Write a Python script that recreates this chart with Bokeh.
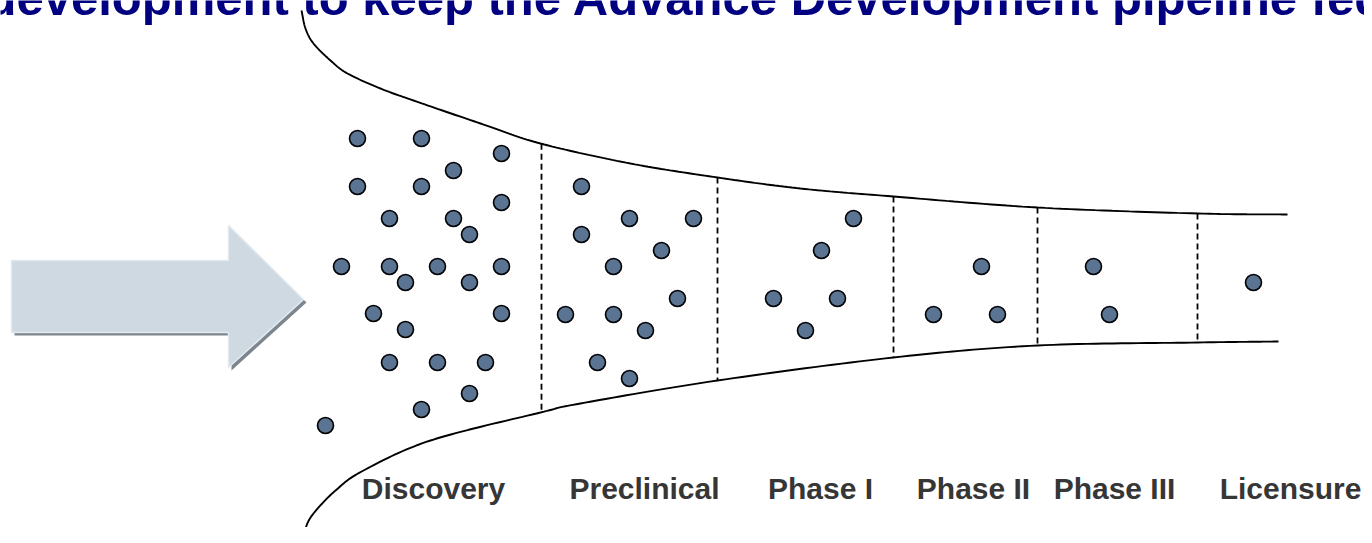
import numpy as np
from bokeh.plotting import figure
from bokeh.models import Range1d
from bokeh.core.properties import value
from bokeh.embed import file_html
from bokeh.resources import INLINE

# ---- data (positions, in picture pixels) ----
stages = ["Discovery", "Preclinical", "Phase I", "Phase II", "Phase III", "Licensure"]
stage_label_x = [433, 644, 820, 973, 1114, 1290]
divider_x = [541, 717, 893, 1037, 1197]

discovery_x = [357, 421, 501, 453, 357, 421, 501, 389, 453, 469, 341, 389, 437, 501,
               405, 469, 373, 501, 405, 389, 437, 485, 469, 421, 325]
discovery_y = [138, 138, 153, 170, 186, 186, 202, 218, 218, 234, 266, 266, 266, 266,
               282, 282, 313, 313, 329, 362, 362, 362, 393, 409, 425]
preclinical_x = [581, 629, 693, 581, 661, 613, 677, 565, 613, 645, 597, 629]
preclinical_y = [186, 218, 218, 234, 250, 266, 298, 314, 314, 330, 362, 378]
phase1_x = [853, 821, 773, 837, 805]
phase1_y = [218, 250, 298, 298, 330]
phase2_x = [981, 933, 997]
phase2_y = [266, 314, 314]
phase3_x = [1093, 1109]
phase3_y = [266, 314]
licensure_x = [1253]
licensure_y = [282]

title_text = "development to keep the Advance Development pipeline fed"

# funnel outline guide points
top_pts = [(301, 10), (305, 28), (313, 43), (330, 60), (347, 73), (380, 88), (413, 100),
           (480, 123), (540, 143), (630, 163), (717, 177), (800, 188), (893, 196),
           (1037, 207), (1197, 213), (1287, 214)]
bot_pts = [(302, 545), (305, 528), (313, 513), (335, 490), (363, 470), (430, 440),
           (540, 412), (580, 403), (717, 380), (893, 357), (1037, 345), (1197, 342),
           (1278, 341)]


def catmull(pts, n=20):
    P = np.array(pts, dtype=float)
    P = np.vstack([P[0] - (P[1] - P[0]), P, P[-1] + (P[-1] - P[-2])])
    out = []
    for i in range(1, len(P) - 2):
        p0, p1, p2, p3 = P[i - 1], P[i], P[i + 1], P[i + 2]
        for t in np.linspace(0, 1, n, endpoint=False):
            t2, t3 = t * t, t * t * t
            pt = 0.5 * ((2 * p1) + (-p0 + p2) * t + (2 * p0 - 5 * p1 + 4 * p2 - p3) * t2
                        + (-p0 + 3 * p1 - 3 * p2 + p3) * t3)
            out.append(pt)
    out.append(P[-2])
    out = np.array(out)
    return out[:, 0], out[:, 1]


def curve_y_at(xs, ys, x):
    order = np.argsort(xs)
    return float(np.interp(x, np.array(xs)[order], np.array(ys)[order]))


p = figure(width=1364, height=527, output_backend="svg", toolbar_location=None,
           x_range=Range1d(0, 1364), y_range=Range1d(527, 0), min_border=0)
p.axis.visible = False
p.grid.visible = False
p.outline_line_color = None
p.background_fill_color = "white"

# arrow (shadow then body)
ax = [11, 228, 228, 303, 228, 228, 11]
ay = [260, 260, 225, 299, 367, 332, 332]
p.patch([v + 3 for v in ax], [v + 3 for v in ay], fill_color="#7d868e", line_color=None)
p.patch(ax, ay, fill_color="#cfd9e1", line_color="#e2e9ef", line_width=1.5)

# funnel
tx, ty = catmull(top_pts)
bx, by = catmull(bot_pts)
p.line(tx, ty, line_color="black", line_width=1.9)
p.line(bx, by, line_color="black", line_width=1.9)

# dashed dividers between the curves
d_top = [curve_y_at(tx[40:], ty[40:], x) for x in divider_x]
d_bot = [curve_y_at(bx[40:], by[40:], x) for x in divider_x]
p.segment(x0=divider_x, y0=d_top, x1=divider_x, y1=d_bot, line_color="black",
          line_width=1.8, line_dash="6 4")

# dots
all_x = discovery_x + preclinical_x + phase1_x + phase2_x + phase3_x + licensure_x
all_y = discovery_y + preclinical_y + phase1_y + phase2_y + phase3_y + licensure_y
p.scatter(all_x, all_y, size=16, marker="circle", fill_color="#5a7491",
          line_color="black", line_width=1.6)

# stage labels
p.text(x=stage_label_x, y=[488] * len(stages), text=stages, text_align="center",
       text_baseline="alphabetic", text_font=value("Liberation Sans"),
       text_font_style="bold", text_font_size="30px", text_color="#363636")

# cut-off title
p.text(x=[-14], y=[-3], text=[title_text], text_align="left", text_baseline="alphabetic",
       text_font=value("Liberation Sans"), text_font_style="bold",
       text_font_size="49px", text_color="#000080")

open("out.html", "w").write(file_html(p, INLINE))
